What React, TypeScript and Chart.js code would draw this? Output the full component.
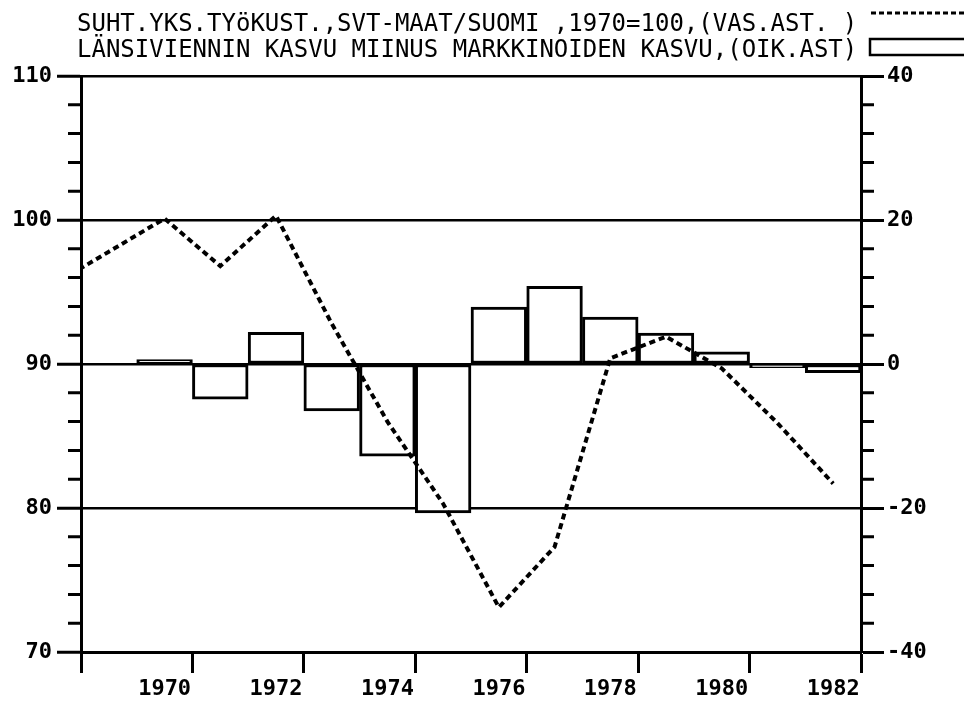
import React, { useEffect, useRef } from 'react';
import { Chart, registerables } from 'chart.js';

Chart.register(...registerables);

const legendLabels = [
  'SUHT.YKS.TYöKUST.,SVT-MAAT/SUOMI ,1970=100,(VAS.AST. )',
  'LÄNSIVIENNIN KASVU MIINUS MARKKINOIDEN KASVU,(OIK.AST)',
];

// Relative unit labour costs, competitor countries / Finland, 1970 = 100 (left axis)
const lineYears = [1968, 1969, 1970, 1971, 1972, 1973, 1974, 1975, 1976, 1977, 1978, 1979, 1980, 1981, 1982];
const costIndex = [95.5, 97.8, 100.1, 96.8, 100.3, 92.8, 86.0, 80.3, 73.1, 77.3, 90.4, 91.9, 89.7, 85.9, 81.7];

// Western export growth minus market growth (right axis)
const barYears = [1970, 1971, 1972, 1973, 1974, 1975, 1976, 1977, 1978, 1979, 1980, 1981, 1982];
const growthDiff = [0.6, -4.9, 4.4, -6.5, -12.8, -20.7, 7.9, 10.8, 6.5, 4.3, 1.7, -0.5, -1.2];

// x-axis ticks sit on year boundaries, labelled every second year
const xTickBounds = [1968.5, 1970.5, 1972.5, 1974.5, 1976.5, 1978.5, 1980.5, 1982.5];
const xMin = 1968.5;
const xMax = 1982.5;

const leftMin = 70;
const leftMax = 110;
const leftStep = 10;
const leftMinorStep = 2;
const rightMin = -40;
const rightMax = 40;
const rightStep = 20;
const rightMinorStep = 4;

const MONO = "'DejaVu Sans Mono', 'Liberation Mono', monospace";

const decorPlugin = {
  id: 'decor',
  afterDraw(chart: any) {
    const ctx = chart.ctx as CanvasRenderingContext2D;
    const { left, right } = chart.chartArea;
    const yl = chart.scales.y;
    const yr = chart.scales.y1;
    ctx.save();
    ctx.strokeStyle = '#000';
    ctx.fillStyle = '#000';
    ctx.lineWidth = 3;
    ctx.beginPath();
    for (let v = leftMin; v <= leftMax; v += leftMinorStep) {
      if (v % leftStep === 0) continue;
      const p = yl.getPixelForValue(v);
      ctx.moveTo(left - 13, p);
      ctx.lineTo(left, p);
    }
    for (let v = rightMin; v <= rightMax; v += rightMinorStep) {
      if (v % rightStep === 0) continue;
      const p = yr.getPixelForValue(v);
      ctx.moveTo(right, p);
      ctx.lineTo(right + 13, p);
    }
    ctx.stroke();

    // legend
    ctx.font = `24px ${MONO}`;
    ctx.textAlign = 'left';
    ctx.textBaseline = 'alphabetic';
    ctx.fillText(legendLabels[0], 77, 31);
    ctx.fillText(legendLabels[1], 77, 57);

    ctx.lineWidth = 3;
    ctx.setLineDash([5, 3]);
    ctx.beginPath();
    ctx.moveTo(871, 13);
    ctx.lineTo(964, 13);
    ctx.stroke();
    ctx.setLineDash([]);
    ctx.lineWidth = 2.5;
    ctx.strokeRect(870, 39, 100, 16);
    ctx.restore();
  },
};

export default function App() {
  const canvasRef = useRef<HTMLCanvasElement | null>(null);

  useEffect(() => {
    if (!canvasRef.current) return;
    const chart = new Chart(canvasRef.current, {
      type: 'bar',
      data: {
        datasets: [
          {
            type: 'line',
            label: legendLabels[0],
            data: lineYears.map((x, i) => ({ x, y: costIndex[i] })),
            yAxisID: 'y',
            xAxisID: 'x',
            borderColor: '#000',
            borderWidth: 4,
            borderDash: [6, 4],
            borderCapStyle: 'butt',
            pointRadius: 0,
            tension: 0,
            fill: false,
            clip: 0,
            order: 0,
          } as any,
          {
            type: 'bar',
            label: legendLabels[1],
            data: barYears.map((x, i) => ({ x, y: growthDiff[i] })),
            yAxisID: 'y1',
            xAxisID: 'x',
            backgroundColor: '#fff',
            borderColor: '#000',
            borderWidth: 3,
            borderSkipped: false,
            barPercentage: 1,
            categoryPercentage: 1,
            order: 1,
          } as any,
        ],
      },
      options: {
        responsive: false,
        animation: false,
        events: [],
        layout: { padding: { top: 76, left: 0, right: 0, bottom: 0 } },
        plugins: {
          legend: { display: false },
          title: { display: false },
          tooltip: { enabled: false },
        },
        scales: {
          x: {
            type: 'linear',
            min: xMin,
            max: xMax,
            offset: false,
            afterBuildTicks: (scale: any) => {
              scale.ticks = xTickBounds.map((value) => ({ value }));
            },
            afterFit: (scale: any) => {
              scale.height = 51;
            },
            grid: {
              offset: false,
              drawOnChartArea: false,
              tickLength: 21,
              tickColor: '#000',
              tickWidth: 3,
            },
            border: { display: true, color: '#000', width: 3 },
            ticks: {
              autoSkip: false,
              maxRotation: 0,
              padding: 3,
              labelOffset: -27.8,
              color: '#000',
              font: { family: MONO, size: 22, weight: 'bold' },
              callback: (value: any) => (value === xMin ? '' : String(value - 0.5)),
            },
          },
          y: {
            type: 'linear',
            position: 'left',
            min: leftMin,
            max: leftMax,
            afterFit: (scale: any) => {
              scale.width = 81;
            },
            grid: {
              color: '#000',
              lineWidth: 2.5,
              tickLength: 24,
              tickColor: '#000',
              tickWidth: 3,
            },
            border: { display: true, color: '#000', width: 3 },
            ticks: {
              stepSize: leftStep,
              padding: 5,
              color: '#000',
              font: { family: MONO, size: 22, weight: 'bold' },
            },
          },
          y1: {
            type: 'linear',
            position: 'right',
            min: rightMin,
            max: rightMax,
            afterFit: (scale: any) => {
              scale.width = 103;
            },
            grid: {
              drawOnChartArea: false,
              tickLength: 23,
              tickColor: '#000',
              tickWidth: 3,
            },
            border: { display: true, color: '#000', width: 3 },
            ticks: {
              stepSize: rightStep,
              padding: 3,
              color: '#000',
              font: { family: MONO, size: 22, weight: 'bold' },
            },
          },
        },
      } as any,
      plugins: [decorPlugin],
    });
    return () => chart.destroy();
  }, []);

  return (
    <div style={{ position: 'absolute', left: 0, top: 0, width: 964, height: 703, background: '#fff' }}>
      <canvas ref={canvasRef} width={964} height={703} style={{ display: 'block' }} />
    </div>
  );
}
